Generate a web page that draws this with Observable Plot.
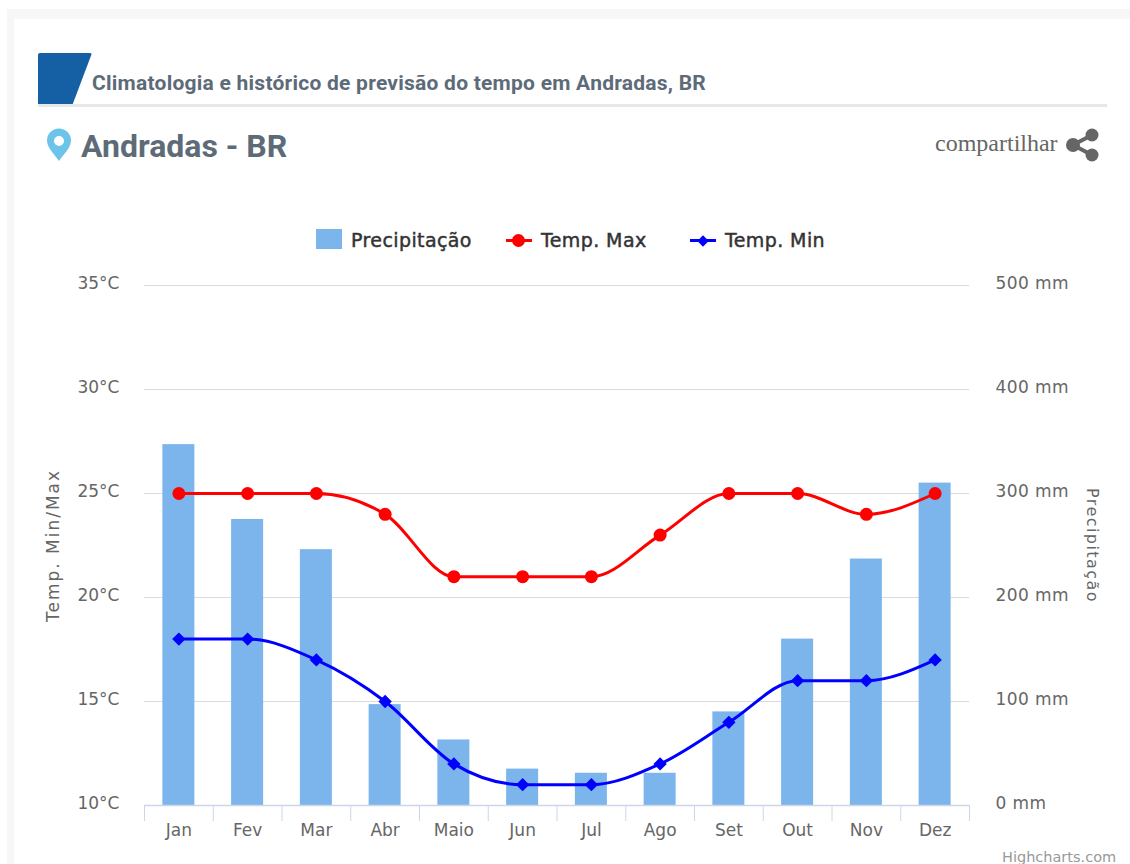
<!DOCTYPE html>
<html lang="pt">
<head>
<meta charset="utf-8">
<script src="https://cdn.jsdelivr.net/npm/d3@7"></script>
<script src="https://cdn.jsdelivr.net/npm/@observablehq/plot@0.6"></script>
<style>
html,body{margin:0;padding:0;background:#fff;width:1130px;height:864px;overflow:hidden}
#frame{position:absolute;left:7px;top:9px;width:1123px;height:855px;box-sizing:border-box;background:#fff;border-top:10px solid #f7f7f7;border-left:7px solid #f7f7f7}
#head{position:absolute;left:0;top:0;width:1130px;height:260px}
#head>*{position:absolute}
#flag{left:38px;top:53px;width:54px;height:53px;background:#1560a5;clip-path:polygon(0 0,100% 0,63% 100%,0 100%);border-radius:2px}
#rule{left:38px;top:104px;width:1069px;height:3px;background:#e6e8e8}
#title{left:92px;top:71px;font:700 21px Roboto,sans-serif;letter-spacing:.24px;color:#5d6b78;white-space:nowrap}
#city{left:81px;top:127px;font:700 32px Roboto,sans-serif;color:#5d6b78;white-space:nowrap}
#pin{left:46px;top:128px}
#share{left:935px;top:130px;font:24px "Liberation Serif",serif;color:#666;white-space:nowrap}
#shareicon{left:1065px;top:128px}
.lg{font:400 19px "DejaVu Sans",sans-serif;letter-spacing:.4px;-webkit-text-stroke:.45px #333;color:#333;white-space:nowrap;top:229px}
.sw{background:#7cb5ec;left:316px;top:229px;width:26px;height:20px}
.ln{height:3px;width:26px;top:239px}
.mk{width:13px;height:13px;top:234px;border-radius:50%;background:#f00}
.mk.d{width:8px;height:8px;top:237px;border-radius:0;transform:rotate(45deg);background:#00f}
#plot{position:absolute;left:0;top:260px}
#credit{position:absolute;left:1002px;top:849px;font:14.500px "DejaVu Sans",sans-serif;color:#999;white-space:nowrap}
</style>
</head>
<body>
<div id="frame"></div>
<div id="head">
  <div id="flag"></div>
  <div id="rule"></div>
  <div id="title">Climatologia e histórico de previsão do tempo em Andradas, BR</div>
  <svg id="pin" width="26" height="33" viewBox="0 0 26 33"><path fill-rule="evenodd" fill="#6cc4ea" d="M13 33C9 27 1 20 1 12.500A12 12 0 0 1 25 12.500C25 20 17 27 13 33ZM13 8A5 5 0 1 0 13 18A5 5 0 1 0 13 8Z"/></svg>
  <div id="city">Andradas - BR</div>
  <div id="share">compartilhar</div>
  <svg id="shareicon" width="36" height="34" viewBox="0 0 36 34"><g fill="#666"><circle cx="27" cy="7" r="6.500"/><circle cx="27" cy="27" r="6.500"/><circle cx="8" cy="17" r="7"/></g><path d="M27 7L8 17L27 27" fill="none" stroke="#666" stroke-width="4"/></svg>
  <div class="sw"></div><div class="lg" style="left:351px">Precipitação</div>
  <div class="ln" style="left:506px;background:#f00"></div><div class="mk" style="left:512px"></div><div class="lg" style="left:541px">Temp. Max</div>
  <div class="ln" style="left:690px;background:#00f"></div><div class="mk d" style="left:699px"></div><div class="lg" style="left:725px">Temp. Min</div>
</div>
<div id="plot"></div>
<div id="credit">Highcharts.com</div>
<script>
const months = ["Jan","Fev","Mar","Abr","Maio","Jun","Jul","Ago","Set","Out","Nov","Dez"];
const precipitacao = [347,275,246,97,63,35,31,31,90,160,237,310];
const tempMax = [25,25,25,24,21,21,21,23,25,25,24,25];
const tempMin = [18,18,17,15,12,11,11,12,14,16,16,17];
const tempTicks = [10,15,20,25,30,35];

const idx = months.map((_, i) => i);
const edges = [...idx.map(i => i - 0.5), 11.5];
const font = '"DejaVu Sans",sans-serif';
const mmToTemp = mm => 10 + mm / 20;
const half = 0.2327;
const axisStyle = {fontSize: "17px", fontFamily: font};

const chart = Plot.plot({
  width: 1130, height: 604,
  marginLeft: 144, marginRight: 161, marginTop: 25, marginBottom: 59,
  style: {background: "transparent", fontFamily: font, overflow: "visible"},
  x: {type: "linear", domain: [-0.5, 11.5]},
  y: {type: "linear", domain: [10, 35]},
  marks: [
    Plot.ruleY(tempTicks.slice(1), {stroke: "#d8dce0", strokeWidth: 1, strokeOpacity: 1}),
    Plot.rectY(idx, {x1: i => i - half, x2: i => i + half, y1: 10, y2: i => mmToTemp(precipitacao[i]), fill: "#7cb5ec"}),
    Plot.ruleY([10], {stroke: "#ccd6eb", strokeWidth: 1.500}),
    Plot.axisX({ticks: edges, tickSize: 16, tickFormat: () => "", stroke: "#ccd6eb", strokeOpacity: 1, label: null}),
    Plot.axisX({ticks: idx, tickSize: 0, tickPadding: 18, tickFormat: i => months[i], fill: "#666", label: null, ...axisStyle}),
    Plot.axisY({ticks: tempTicks, anchor: "left", tickSize: 0, tickPadding: 25, dy: -2, tickFormat: d => `${d}°C`, fill: "#666", label: null, ...axisStyle}),
    Plot.axisY({ticks: tempTicks, anchor: "right", tickSize: 0, tickPadding: 26, dy: -2, tickFormat: d => `${(d - 10) * 20} mm`, fill: "#666", label: null, ...axisStyle}),
    Plot.text(["Temp. Min/Max"], {frameAnchor: "left", dx: -91, rotate: -90, textAnchor: "middle", fill: "#666", fontSize: 17}),
    Plot.text(["Precipitação"], {frameAnchor: "right", dx: 123, rotate: 90, textAnchor: "middle", fill: "#666", fontSize: 16}),
    Plot.line(idx, {x: i => i, y: i => tempMax[i], stroke: "#f00", strokeWidth: 3, curve: "monotone-x"}),
    Plot.dot(idx, {x: i => i, y: i => tempMax[i], r: 6.500, fill: "#f00", symbol: "circle"}),
    Plot.line(idx, {x: i => i, y: i => tempMin[i], stroke: "#00f", strokeWidth: 3, curve: "monotone-x"}),
    Plot.dot(idx, {x: i => i, y: i => tempMin[i], r: 6, fill: "#00f", symbol: "diamond2"})
  ]
});
const titles = chart.querySelectorAll('g[aria-label="text"] text');
titles[0].style.letterSpacing = "2px";
titles[1].style.letterSpacing = "1.45px";
const tickGroups = chart.querySelectorAll('g[aria-label="y-axis tick label"]');
tickGroups[tickGroups.length - 1].style.letterSpacing = "0.4px";
document.getElementById("plot").append(chart);
</script>
</body>
</html>
